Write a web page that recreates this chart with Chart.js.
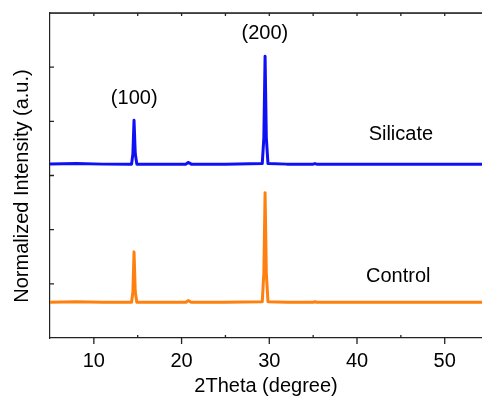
<!DOCTYPE html>
<html lang="en">
<head>
    <meta charset="UTF-8">
    <title>XRD patterns</title>
    <style>
        body {
            margin: 0;
            padding: 0;
            background-color: #ffffff;
        }
        .chart-container {
            width: 482px;
            height: 398px;
        }
    </style>
    <script src="https://cdn.jsdelivr.net/npm/chart.js"></script>
</head>
<body>
    <div class="chart-container">
        <canvas id="xrdChart"></canvas>
    </div>

    <script>
        // 2Theta positions (degree)
        const twoTheta = [5, 8, 11, 14.3, 14.45, 14.58, 14.72, 14.9, 17, 20.5, 20.75, 20.9, 21.1, 25,
            29.2, 29.38, 29.52, 29.66, 29.85, 32, 35, 35.2, 35.4, 40, 45, 50, 54.25];
        // normalized intensity, offset per sample
        const silicate = [3.21, 3.22, 3.21, 3.21, 3.4, 4.02, 3.4, 3.21, 3.21, 3.21, 3.24, 3.23, 3.21, 3.21,
            3.22, 3.7, 5.2, 3.7, 3.22, 3.21, 3.21, 3.22, 3.21, 3.21, 3.21, 3.21, 3.21];
        const control = [0.66, 0.67, 0.66, 0.66, 0.85, 1.59, 0.85, 0.66, 0.66, 0.66, 0.69, 0.68, 0.66, 0.66,
            0.67, 1.2, 2.68, 1.2, 0.67, 0.66, 0.66, 0.67, 0.66, 0.66, 0.66, 0.66, 0.66];

        const xTicks = [10, 20, 30, 40, 50];
        const xMinorTicks = [10, 15, 20, 25, 30, 35, 40, 45, 50];
        const yTicks = [1, 2, 3, 4, 5];

        // text labels placed in data coordinates
        const labels = [
            { text: '(100)', x: 14.6, y: 4.43 },
            { text: '(200)', x: 29.5, y: 5.62 },
            { text: 'Silicate', x: 45.0, y: 3.76 },
            { text: 'Control', x: 44.7, y: 1.14 }
        ];

        const fontFamily = "'Liberation Sans', Arial, sans-serif";

        const framePlugin = {
            id: 'frame',
            afterDraw(chart) {
                const ctx = chart.ctx;
                const xs = chart.scales.x;
                const ys = chart.scales.y;
                const a = chart.chartArea;
                const top = Math.round(a.top);
                ctx.save();
                // top border
                ctx.fillStyle = '#111';
                ctx.fillRect(a.left, top - 0.7, a.right - a.left, 1.5);

                ctx.strokeStyle = '#222';
                ctx.lineWidth = 1.3;
                ctx.beginPath();
                // top ticks (inward)
                xMinorTicks.forEach(v => {
                    const px = xs.getPixelForValue(v);
                    ctx.moveTo(px, top);
                    ctx.lineTo(px, top + 3);
                });
                // bottom major ticks (outward)
                xTicks.forEach(v => {
                    const px = xs.getPixelForValue(v);
                    ctx.moveTo(px, a.bottom);
                    ctx.lineTo(px, a.bottom + 6);
                });
                // bottom minor ticks (inward)
                xMinorTicks.filter(v => !xTicks.includes(v)).forEach(v => {
                    const px = xs.getPixelForValue(v);
                    ctx.moveTo(px, a.bottom);
                    ctx.lineTo(px, a.bottom - 3);
                });
                // left ticks (inward)
                yTicks.forEach(v => {
                    const py = ys.getPixelForValue(v);
                    ctx.moveTo(a.left, py);
                    ctx.lineTo(a.left + 4, py);
                });
                ctx.stroke();

                // annotations
                ctx.fillStyle = '#000';
                ctx.font = '20px ' + fontFamily;
                ctx.textAlign = 'center';
                ctx.textBaseline = 'middle';
                labels.forEach(l => {
                    ctx.fillText(l.text, xs.getPixelForValue(l.x), ys.getPixelForValue(l.y));
                });

                // y axis title
                ctx.translate(22, 186);
                ctx.rotate(-Math.PI / 2);
                ctx.fillText('Normalized Intensity (a.u.)', 0, 0);
                ctx.restore();
            }
        };

        new Chart(document.getElementById('xrdChart'), {
            type: 'line',
            data: {
                labels: twoTheta,
                datasets: [{
                    label: 'Silicate',
                    data: twoTheta.map((t, i) => ({ x: t, y: silicate[i] })),
                    borderColor: '#1010f5',
                    borderWidth: 3,
                    borderJoinStyle: 'round',
                    borderCapStyle: 'round',
                    pointRadius: 0,
                    tension: 0
                }, {
                    label: 'Control',
                    data: twoTheta.map((t, i) => ({ x: t, y: control[i] })),
                    borderColor: '#ff800e',
                    borderWidth: 3,
                    borderJoinStyle: 'round',
                    borderCapStyle: 'round',
                    pointRadius: 0,
                    tension: 0
                }]
            },
            options: {
                responsive: true,
                maintainAspectRatio: false,
                animation: false,
                layout: { padding: { top: 13, right: 0, left: 0, bottom: 0 } },
                plugins: {
                    legend: { display: false },
                    tooltip: { enabled: false }
                },
                scales: {
                    x: {
                        type: 'linear',
                        min: 5,
                        max: 54.25,
                        afterBuildTicks: scale => {
                            scale.ticks = xTicks.map(v => ({ value: v }));
                        },
                        afterFit: scale => { scale.height = 60; },
                        grid: { display: false, drawTicks: false },
                        border: { display: true, color: '#222', width: 1.2 },
                        ticks: {
                            color: '#000',
                            padding: 11,
                            maxRotation: 0,
                            font: { family: fontFamily, size: 20 }
                        },
                        title: {
                            display: true,
                            text: '2Theta (degree)',
                            color: '#000',
                            padding: { top: 0, bottom: 0 },
                            font: { family: fontFamily, size: 20 }
                        }
                    },
                    y: {
                        min: 0,
                        max: 6,
                        afterFit: scale => { scale.width = 50; },
                        grid: { display: false, drawTicks: false },
                        border: { display: true, color: '#222', width: 1.2 },
                        ticks: { display: false }
                    }
                }
            },
            plugins: [framePlugin]
        });
    </script>
</body>
</html>
